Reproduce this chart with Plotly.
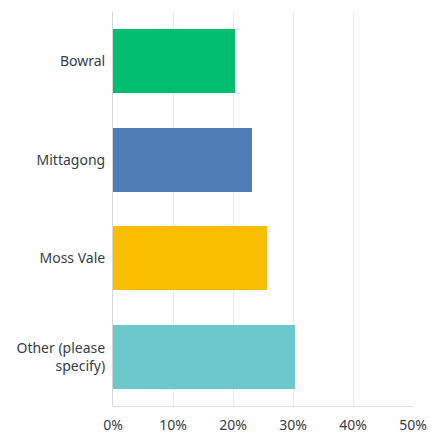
import plotly.graph_objects as go

categories = ["Bowral", "Mittagong", "Moss Vale", "Other (please<br>specify)"]
values = [20.3, 23.1, 25.7, 30.4]
colors = ["#00bf6f", "#507cb6", "#f9be00", "#6bc8cd"]
tick_vals = [0, 10, 20, 30, 40, 50]
tick_text = ["0%", "10%", "20%", "30%", "40%", "50%"]

fig = go.Figure(go.Bar(
    x=values, y=categories, orientation="h",
    marker=dict(color=colors, line=dict(width=0)),
    width=0.653, hoverinfo="skip",
))

fig.update_layout(
    width=431, height=435,
    margin=dict(l=113, r=18, t=12, b=29, autoexpand=False),
    paper_bgcolor="white", plot_bgcolor="white",
    font=dict(family="Noto Sans", size=14, color="#333e48"),
    showlegend=False,
    bargap=0,
)
fig.update_xaxes(
    range=[0, 50], tickvals=tick_vals, ticktext=tick_text,
    showgrid=True, gridcolor="#ebebeb", gridwidth=1,
    zeroline=False, showline=True, linecolor="#e0e0e0", linewidth=1,
    ticks="", ticklabelstandoff=6, fixedrange=True, automargin=False,
)
fig.update_yaxes(
    autorange="reversed", showgrid=False, zeroline=False,
    showline=True, linecolor="#d6d6d6", linewidth=1,
    ticks="", ticklabelstandoff=4, fixedrange=True, automargin=False,
)

fig.write_html(
    "out.html",
    config={"displayModeBar": False},
    post_script="document.body.style.margin='0';document.body.style.overflow='hidden';",
)
